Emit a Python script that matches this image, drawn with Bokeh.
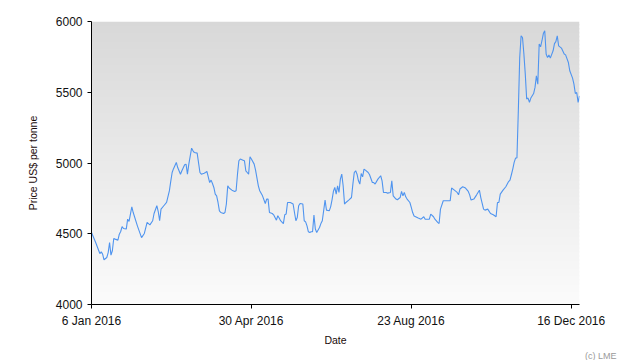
import numpy as np
import pandas as pd
from bokeh.plotting import figure
from bokeh.models import (Range1d, FixedTicker, CustomJSTickFormatter, BoxAnnotation,
                          Title, ColumnDataSource)
from bokeh.embed import file_html
from bokeh.resources import INLINE

# ---- data ----
start_date = "2016-01-06"
days_since_start = [
    0, 3, 6, 7, 8, 9, 11, 12, 13, 14, 15, 16, 17, 19, 20, 21, 22, 23, 25, 26, 27, 29, 30,
    33, 36, 38, 40, 42, 44, 45, 47, 48, 49, 50, 52, 54, 56, 57, 58, 59, 61, 62, 64, 65,
    67, 68, 69, 70, 72, 73, 74, 76, 78, 79, 81, 82, 83, 85, 86, 87, 88, 89, 90, 91, 92,
    93, 95, 96, 97, 98, 99, 101, 103, 104, 105, 106, 107, 109, 110, 111, 112, 113, 114,
    115, 117, 118, 120, 121, 123, 125, 126, 127, 128, 130, 131, 133, 134, 135, 136, 138,
    139, 140, 141, 143, 145, 146, 147, 148, 149, 150, 152, 153, 154, 155, 156, 157, 158,
    159, 160, 161, 162, 164, 165, 166, 168, 169, 171, 172, 173, 174, 175, 176, 177, 178,
    179, 180, 181, 182, 183, 185, 187, 188, 189, 190, 191, 192, 193, 194, 195, 196, 197,
    199, 200, 202, 203, 204, 206, 208, 209, 210, 212, 213, 215, 216, 217, 219, 220, 222,
    223, 224, 225, 226, 227, 229, 230, 231, 232, 235, 237, 239, 240, 242, 243, 244, 246,
    247, 249, 250, 251, 253, 255, 258, 259, 261, 263, 264, 265, 267, 269, 271, 272, 273,
    275, 277, 279, 280, 282, 283, 285, 287, 289, 290, 291, 292, 293, 294, 296, 298, 300,
    301, 302, 303, 304, 305, 306, 307, 308, 309, 310, 311, 312, 313, 314, 315, 316, 318,
    319, 320, 321, 322, 323, 324, 325, 326, 327, 328, 329, 330, 332, 333, 334, 335, 336,
    338, 340, 341, 343, 344, 346, 347, 348, 349, 350, 351,
]
price = [
    4509, 4438, 4360, 4372, 4356, 4316, 4332, 4367, 4438, 4349, 4380, 4466, 4462, 4455,
    4497, 4516, 4551, 4537, 4533, 4603, 4587, 4690, 4650,
    4556, 4473, 4502, 4580, 4563, 4592, 4643, 4698, 4657, 4592, 4674, 4698, 4721, 4803,
    4870, 4933, 4960, 5004, 4968, 4921, 4945,
    4987, 4992, 4921, 4992, 5105, 5086, 5074, 5070, 4933, 4921, 4928, 4933, 4940, 4862,
    4879, 4855, 4827, 4780, 4768, 4721, 4662,
    4650, 4643, 4650, 4710, 4839, 4823, 4808, 4799, 4804, 4921, 5016, 5028, 5020, 5016,
    4945, 4933, 4921, 5044,
    5028, 4992, 4950, 4839, 4804, 4768, 4714, 4745, 4745, 4650, 4643, 4634, 4596, 4627,
    4611, 4592, 4572,
    4634, 4639, 4721, 4721, 4710, 4650, 4592, 4615, 4698, 4714, 4710, 4592, 4584, 4556,
    4514, 4509, 4514,
    4514, 4632, 4533, 4509, 4544, 4572, 4592, 4738, 4667, 4662, 4690, 4740, 4800, 4827,
    4780, 4839, 4792,
    4886, 4921, 4839, 4710, 4721, 4738, 4756, 4851, 4933, 4945, 4921, 4874, 4851, 4926,
    4902, 4957, 4950,
    4933, 4917, 4862, 4862, 4851, 4886, 4910, 4874, 4792, 4792, 4787, 4792, 4874, 4768,
    4745, 4740, 4756,
    4799, 4768, 4792, 4761, 4745, 4721, 4686, 4650, 4625, 4611, 4603, 4620, 4603, 4603,
    4603, 4639, 4620,
    4603, 4580, 4572, 4674, 4733, 4733, 4733, 4823, 4808, 4792, 4775, 4816, 4832, 4823,
    4799, 4775, 4738,
    4745, 4775, 4808, 4756, 4674, 4667, 4674, 4643, 4634, 4627, 4620, 4721, 4721, 4780,
    4808, 4832, 4869,
    4879, 4917, 4957, 5004, 5035, 5035, 5369, 5745, 5899, 5887, 5770, 5628, 5452, 5459,
    5428, 5459, 5491,
    5534, 5616, 5557, 5841, 5821, 5864, 5915, 5934, 5770, 5745, 5764, 5741, 5793, 5844,
    5858, 5899, 5828,
    5812, 5770, 5764, 5710, 5652, 5600, 5557, 5491, 5498, 5428, 5475,
]
tick_dates = ["2016-01-06", "2016-04-30", "2016-08-23", "2016-12-16"]
y_ticks = [4000, 4500, 5000, 5500, 6000]
y_min, y_max = 4000, 6000

FONT = "Liberation Sans"
W, H = 622, 360
FRAME_L, FRAME_T, FRAME_R, FRAME_B = 91, 21, 579, 304

dates = pd.Timestamp(start_date) + pd.to_timedelta(days_since_start, unit="D")
src = ColumnDataSource(dict(date=dates, price=price))

p = figure(width=W, height=H, x_axis_type="datetime",
           output_backend="svg", toolbar_location=None,
           x_range=Range1d(dates[0], dates[-1]), y_range=Range1d(y_min, y_max),
           min_border_left=FRAME_L, min_border_right=W - FRAME_R,
           min_border_top=FRAME_T, min_border_bottom=H - FRAME_B)
p.background_fill_color = "white"
p.border_fill_color = "white"
p.outline_line_color = None
p.grid.visible = False

# vertical gradient of the plot area (light grey at top to near white at bottom)
n_bands = 71
edges = np.linspace(y_min, y_max, n_bands + 1)
step = edges[1] - edges[0]
for i in range(n_bands):
    t = (i + 0.5) / n_bands
    c = int(round(251 - (251 - 216) * t))
    top = edges[i + 1] + (step * 0.4 if i < n_bands - 1 else 0)
    p.add_layout(BoxAnnotation(bottom=edges[i], top=top,
                               fill_color=f"#{c:02x}{c:02x}{c:02x}", fill_alpha=1.0,
                               line_color=None, level="underlay"))

p.line("date", "price", source=src, line_color="#4f94ef", line_width=1.1)

p.xaxis.ticker = FixedTicker(ticks=[pd.Timestamp(d).value // 10**6 for d in tick_dates])
p.xaxis.formatter = CustomJSTickFormatter(code="""
const m = ["Jan","Feb","Mar","Apr","May","Jun","Jul","Aug","Sep","Oct","Nov","Dec"];
const d = new Date(tick);
return d.getUTCDate() + " " + m[d.getUTCMonth()] + " " + d.getUTCFullYear();
""")
p.yaxis.ticker = FixedTicker(ticks=y_ticks)

p.xaxis.axis_label = "Date"
p.yaxis.axis_label = "Price US$ per tonne"
for ax in (p.xaxis, p.yaxis):
    ax.axis_line_color = "black"
    ax.axis_line_width = 1
    ax.major_tick_line_color = "black"
    ax.major_tick_in = 0
    ax.major_tick_out = 4
    ax.minor_tick_line_color = None
    ax.major_label_text_font = FONT
    ax.major_label_text_font_size = "12px"
    ax.major_label_text_color = "#111111"
    ax.axis_label_text_font = FONT
    ax.axis_label_text_font_size = "10.5px"
    ax.axis_label_text_font_style = "normal"
    ax.axis_label_text_color = "#1a0a0a"
    ax.major_label_standoff = 5
p.xaxis.axis_label_standoff = 3
p.yaxis.axis_label_standoff = 14

# copyright note below the x axis, right-aligned past the frame edge
p.add_layout(Title(text="(c) LME", align="right", offset=-(616 - FRAME_R),
                   text_font=FONT, text_font_size="9px", text_font_style="normal",
                   text_color="#9a9a9a", standoff=0), "below")

open("out.html", "w").write(file_html(p, INLINE))
